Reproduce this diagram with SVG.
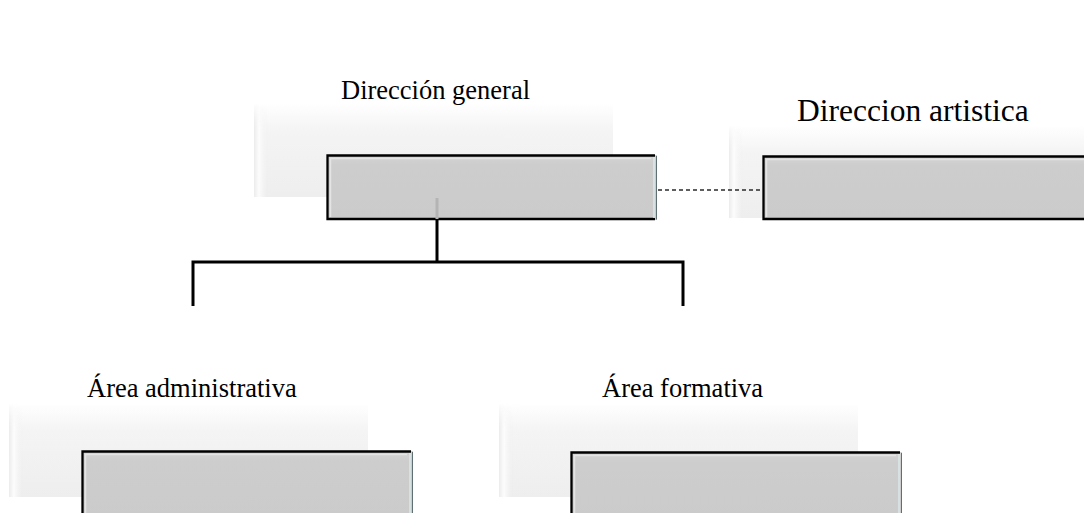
<svg xmlns="http://www.w3.org/2000/svg" width="1084" height="513" viewBox="0 0 1084 513">
  <defs>
    <linearGradient id="panelFill" x1="0" y1="0" x2="0" y2="1">
      <stop offset="0" stop-color="#ffffff"/>
      <stop offset="0.3" stop-color="#f4f4f4"/>
      <stop offset="1" stop-color="#eeeeee"/>
    </linearGradient>
    <linearGradient id="panelEdge" x1="0" y1="0" x2="1" y2="0">
      <stop offset="0" stop-color="#ececec"/>
      <stop offset="0.35" stop-color="#fcfcfc"/>
      <stop offset="1" stop-color="#f2f2f2" stop-opacity="0"/>
    </linearGradient>
    <linearGradient id="panelEdgeFade" x1="0" y1="0" x2="0" y2="1">
      <stop offset="0" stop-color="#fff" stop-opacity="0"/>
      <stop offset="0.25" stop-color="#fff" stop-opacity="1"/>
      <stop offset="1" stop-color="#fff" stop-opacity="1"/>
    </linearGradient>
    <mask id="edgeMask" maskContentUnits="objectBoundingBox">
      <rect width="1" height="1" fill="url(#panelEdgeFade)"/>
    </mask>
    <linearGradient id="boxFill" x1="0" y1="0" x2="0" y2="1">
      <stop offset="0" stop-color="#d4d4d4"/>
      <stop offset="0.15" stop-color="#cdcdcd"/>
      <stop offset="1" stop-color="#cbcbcb"/>
    </linearGradient>
  </defs>
  <style>
    .label { font-family: "Liberation Serif", "Times New Roman", serif; fill: #000; }
    .panel { fill: url(#panelFill); }
    .panel-edge { fill: url(#panelEdge); }
    .box { fill: url(#boxFill); }
    .box-border { fill: none; stroke: #000; stroke-width: 2.3; }
    .box-hi { fill: none; stroke: #e4e4e4; stroke-width: 1.5; }
    .box-right { fill: none; stroke: #5f6f74; stroke-width: 1; }
    .box-right-hi { fill: none; stroke: #dce8ea; stroke-width: 1.5; }
    .link { fill: none; stroke: #000; stroke-width: 3; }
    .dashed { fill: none; stroke: #2a2a2a; stroke-width: 1.4; stroke-dasharray: 4 3; }
    .ghost { fill: none; stroke: #b4b4b4; stroke-width: 3; }
  </style>

  <rect width="1084" height="513" fill="#ffffff"/>

  <!-- Dirección general -->
  <g id="node-direccion-general">
    <rect class="panel" x="254" y="103" width="359" height="94"/>
    <rect class="panel-edge" x="254" y="103" width="14" height="94" mask="url(#edgeMask)"/>
    <rect class="box" x="327" y="155" width="330" height="65"/>
    <path class="box-hi" d="M330 158.5 H651 M330.5 158 V217"/>
    <path class="box-border" d="M655 155.5 H327.5 V219 H655"/>
    <path class="box-right-hi" d="M654 157 V218"/>
    <path class="box-right" d="M656.5 156 V219.5"/>
    <text class="label" x="341" y="99" font-size="26.5">Dirección general</text>
  </g>

  <!-- Direccion artistica -->
  <g id="node-direccion-artistica">
    <rect class="panel" x="729" y="125" width="360" height="93"/>
    <rect class="panel-edge" x="729" y="125" width="14" height="93" mask="url(#edgeMask)"/>
    <rect class="box" x="763" y="156" width="330" height="64"/>
    <path class="box-hi" d="M766 159.5 H1090 M766.5 159 V217"/>
    <path class="box-border" d="M1090 156.5 H763.5 V219 H1090"/>
    <text class="label" x="797" y="121" font-size="31.5">Direccion artistica</text>
  </g>

  <!-- Área administrativa -->
  <g id="node-area-administrativa">
    <rect class="panel" x="9" y="403" width="359" height="94"/>
    <rect class="panel-edge" x="9" y="403" width="14" height="94" mask="url(#edgeMask)"/>
    <rect class="box" x="82" y="451" width="331" height="70"/>
    <path class="box-hi" d="M85 454.5 H407 M85.5 454 V520"/>
    <path class="box-border" d="M411 451.5 H82.5 V520"/>
    <path class="box-right-hi" d="M410 453 V520"/>
    <path class="box-right" d="M412.5 452 V520"/>
    <text class="label" x="87" y="397" font-size="26.5">Área administrativa</text>
  </g>

  <!-- Área formativa -->
  <g id="node-area-formativa">
    <rect class="panel" x="499" y="403" width="359" height="94"/>
    <rect class="panel-edge" x="499" y="403" width="14" height="94" mask="url(#edgeMask)"/>
    <rect class="box" x="571" y="452" width="331" height="70"/>
    <path class="box-hi" d="M574 455.5 H896 M574.5 455 V520"/>
    <path class="box-border" d="M900 452.5 H571.5 V520"/>
    <path class="box-right-hi" d="M899 454 V520"/>
    <path class="box-right" d="M901.5 453 V520"/>
    <text class="label" x="602" y="397" font-size="26.5">Área formativa</text>
  </g>

  <!-- Connectors -->
  <g id="connectors">
    <path class="ghost" d="M437 198 V219"/>
    <path class="link" d="M437 220 V262 M193 306 V262 H683 V306"/>
    <path class="dashed" d="M658 190 H763"/>
  </g>
</svg>
